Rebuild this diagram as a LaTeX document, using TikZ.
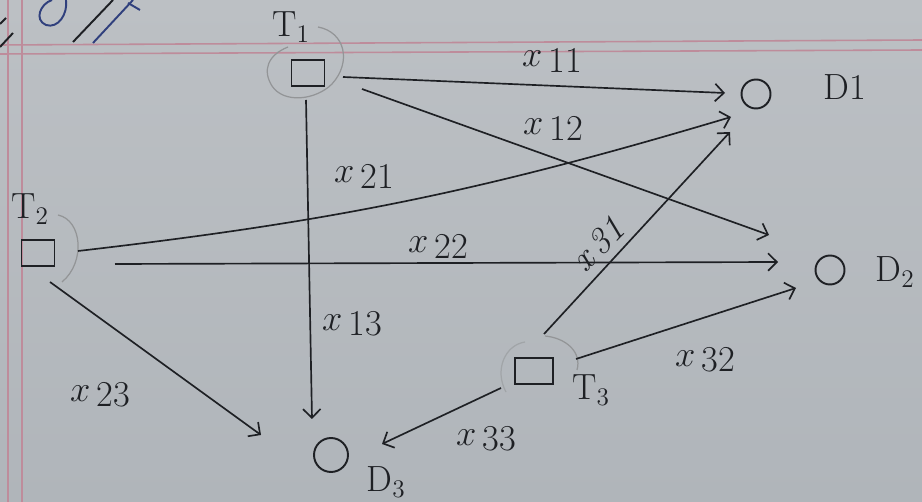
\documentclass[tikz,border=0pt]{standalone}
\usetikzlibrary{arrows.meta}
\definecolor{paper}{RGB}{176,181,186}
\definecolor{paperlight}{RGB}{188,192,196}
\definecolor{ink}{RGB}{30,32,36}
\definecolor{margin}{RGB}{190,140,155}
\definecolor{pen}{RGB}{48,64,125}
\newcommand{\xl}[1]{$x$\,\raisebox{-0.35ex}{#1}}
\tikzset{
  src/.style={draw=ink, line width=1.1pt, minimum width=0.66cm, minimum height=0.52cm, inner sep=0pt},
  dst/.style={draw=ink, line width=1.1pt, circle, minimum size=0.58cm, inner sep=0pt},
  arr/.style={draw=ink, line width=0.95pt, -{Straight Barb[length=5pt,width=10pt]}},
  lab/.style={text=ink, font=\huge, inner sep=1pt},
  fuzzy/.style={draw=gray!60!paper, line width=0.7pt},
  rule/.style={draw=margin, line width=0.9pt}
}
\begin{document}
\begin{tikzpicture}[x=0.02cm,y=-0.02cm]
\useasboundingbox (0,0) rectangle (922,502);
\shade[top color=paperlight, bottom color=paper] (0,0) rectangle (922,502);
% ruled paper
\draw[rule] (0,45) -- (922,40);
\draw[rule] (0,54) -- (922,50);
\draw[rule] (8,0) -- (8,502);
\draw[rule] (22,0) -- (22,502);
% scribbles from the writing above
\draw[pen, line width=1.1pt] (52,0) .. controls (40,4) and (34,20) .. (46,25) .. controls (58,29) and (68,14) .. (66,0);
\draw[ink, line width=1.1pt] (73,42) -- (113,0);
\draw[pen, line width=1.1pt] (93,43) -- (133,0);
\draw[pen, line width=1.1pt] (128,3) -- (140,10);
\draw[ink, line width=1.1pt] (0,47) -- (13,33);
\draw[ink, line width=1.1pt] (0,24) -- (6,18);
% nodes
\node[src] (T1) at (308,73) {};
\node[src] (T2) at (38,253) {};
\node[src, minimum width=0.76cm] (T3) at (534,371) {};
\node[dst] (D1) at (756,94) {};
\node[dst] (D2) at (830,270) {};
\node[dst, minimum size=0.68cm] (D3) at (331,455) {};
% node labels
\node[lab] (tT1) at (291,27) {T$_1$};
\node[lab] (tT2) at (30,209) {T$_2$};
\node[lab] (tT3) at (591,390) {T$_3$};
\node[lab] (tD1) at (845,87) {D1};
\node[lab] (tD2) at (895,272) {D$_2$};
\node[lab] (tD3) at (386,482) {D$_3$};
% faint loops round the sources
\draw[fuzzy] (318,27) .. controls (345,32) and (352,62) .. (332,84) .. controls (316,100) and (284,104) .. (272,86) .. controls (262,70) and (268,55) .. (288,47);
\draw[fuzzy] (58,215) .. controls (82,220) and (86,262) .. (62,282);
\draw[fuzzy] (545,336) .. controls (566,338) and (582,352) .. (577,370);
\draw[fuzzy, draw=gray!30!paper] (525,342) .. controls (505,345) and (494,370) .. (506,392);
% connectors
\draw[arr] ([shift={(35,4)}]T1.center) -- ([shift={(-31,-1)}]D1.center);
\draw[arr] ([shift={(54,16)}]T1.center) -- ([shift={(-61,-35)}]D2.center);
\draw[arr] ([shift={(-2,27)}]T1.center) -- ([shift={(-19,-36)}]D3.center);
\draw[arr] ([shift={(40,-2)}]T2.center) to[bend right=5] ([shift={(-25,23)}]D1.center);
\draw[arr] ([shift={(77,11)}]T2.center) -- ([shift={(-52,-8)}]D2.center);
\draw[arr] ([shift={(12,29)}]T2.center) -- ([shift={(-70,-20)}]D3.center);
\draw[arr] ([shift={(10,-37)}]T3.center) -- ([shift={(-26,38)}]D1.center);
\draw[arr] ([shift={(42,-12)}]T3.center) -- ([shift={(-34,18)}]D2.center);
\draw[arr] ([shift={(-33,17)}]T3.center) -- ([shift={(51,-11)}]D3.center);
% connector labels
\node[lab] (l11) at (552,60) {\xl{11}};
\node[lab] (l12) at (553,128) {\xl{12}};
\node[lab] (l13) at (352,324) {\xl{13}};
\node[lab] (l21) at (364,176) {\xl{21}};
\node[lab] (l22) at (438,246) {\xl{22}};
\node[lab] (l23) at (100,395) {\xl{23}};
\node[lab, rotate=45] (l31) at (598,244) {\itshape x\,31};
\node[lab] (l32) at (705,360) {\xl{32}};
\node[lab] (l33) at (486,439) {\xl{33}};
\end{tikzpicture}
\end{document}
